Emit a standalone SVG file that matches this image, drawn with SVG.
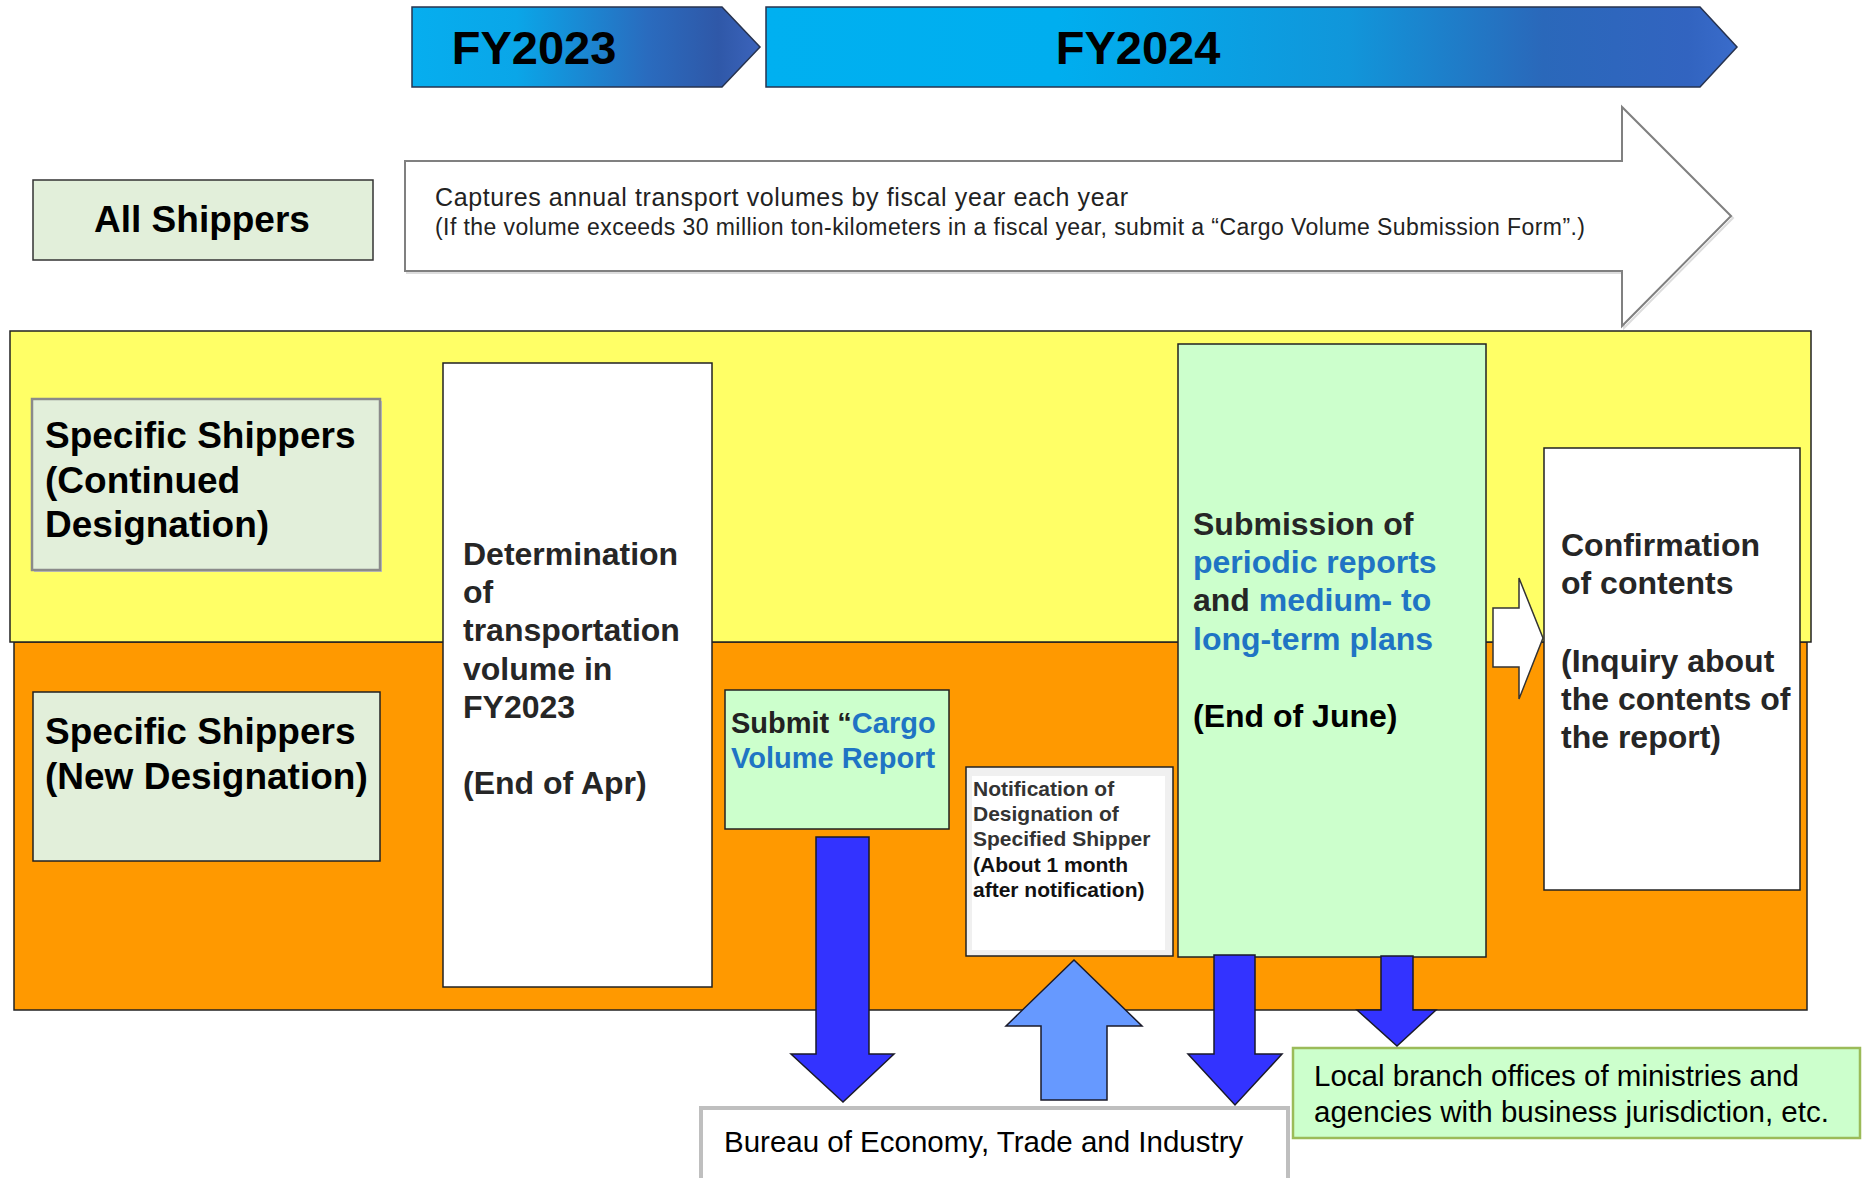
<svg xmlns="http://www.w3.org/2000/svg" width="1867" height="1178" viewBox="0 0 1867 1178">
<defs>
<linearGradient id="g23" gradientUnits="userSpaceOnUse" x1="412" y1="0" x2="760" y2="0">
<stop offset="0" stop-color="#06AEEF"/><stop offset="0.3" stop-color="#0AA6E8"/><stop offset="0.68" stop-color="#2A6BBE"/><stop offset="0.88" stop-color="#2F58A8"/><stop offset="1" stop-color="#3C64BC"/>
</linearGradient>
<linearGradient id="g24" gradientUnits="userSpaceOnUse" x1="766" y1="0" x2="1737" y2="0">
<stop offset="0" stop-color="#00B0F0"/><stop offset="0.3" stop-color="#00AEEF"/><stop offset="0.6" stop-color="#1196DA"/><stop offset="0.8" stop-color="#2A68BA"/><stop offset="0.95" stop-color="#3264C0"/><stop offset="1" stop-color="#3A6CCB"/>
</linearGradient>
<style>
text{font-family:"Liberation Sans",Arial,Helvetica,sans-serif;}
.b{font-weight:bold;}
.fy{font-size:47px;font-weight:bold;fill:#000;text-anchor:middle;}
.lab{font-size:37px;font-weight:bold;fill:#000;}
.big{font-size:32px;font-weight:bold;fill:#262626;}
.blue{fill:#1F74C4;}
.box{stroke:#222;stroke-width:1.5;}
.green{fill:#CCFFCC;}
.pale{fill:#E2EFDA;}
.arr{fill:#3333FF;stroke:#1a1a2a;stroke-width:1.5;stroke-linejoin:miter;}
.arrup{fill:#6699FF;stroke:#1a1a2a;stroke-width:1.5;}
.reg{font-size:29.5px;fill:#000;}
</style>
</defs>
<rect width="1867" height="1178" fill="#fff"/>

<g id="fy2023">
<polygon points="412,7 722,7 760,47 722,87 412,87" fill="url(#g23)" stroke="#27334f" stroke-width="1.5"/>
<text class="fy" x="534" y="64">FY2023</text>
</g>
<g id="fy2024">
<polygon points="766,7 1700,7 1737,47 1700,87 766,87" fill="url(#g24)" stroke="#27334f" stroke-width="1.5"/>
<text class="fy" x="1138" y="64">FY2024</text>
</g>

<g id="all-shippers">
<rect x="33" y="180" width="340" height="80" class="pale" stroke="#333" stroke-width="1.5"/>
<text class="b" x="202" y="232" font-size="37" text-anchor="middle" fill="#000">All Shippers</text>
</g>

<g id="annual-capture">
<polygon points="407,163 1624,163 1624,109 1733,218 1624,328 1624,273 407,273" fill="none" stroke="#dddddd" stroke-width="2"/>
<polygon points="405,161 1622,161 1622,107 1731,216 1622,326 1622,271 405,271" fill="#fff" stroke="#808080" stroke-width="2"/>
<text x="435" y="206" font-size="25" fill="#222" textLength="693" lengthAdjust="spacing">Captures annual transport volumes by fiscal year each year</text>
<text x="435" y="235" font-size="23" fill="#222" textLength="1150" lengthAdjust="spacing">(If the volume exceeds 30 million ton-kilometers in a fiscal year, submit a “Cargo Volume Submission Form”.)</text>
</g>

<g id="bands">
<rect x="14" y="642" width="1793" height="368" fill="#FF9900" stroke="#222" stroke-width="1.5"/>
<rect x="10" y="331" width="1801" height="311" fill="#FFFF66" stroke="#222" stroke-width="1.5"/>
</g>

<g id="specific-continued">
<rect x="34" y="401" width="348" height="171" fill="#bfbfbf"/>
<rect x="32" y="399" width="348" height="171" class="pale" stroke="#8a8a8a" stroke-width="2.5"/>
<text class="lab" x="45"><tspan x="45" y="448">Specific Shippers</tspan><tspan x="45" y="493">(Continued</tspan><tspan x="45" y="537">Designation)</tspan></text>
</g>

<g id="specific-new">
<rect x="33" y="692" width="347" height="169" class="pale box"/>
<text class="lab" x="45"><tspan x="45" y="744">Specific Shippers</tspan><tspan x="45" y="789">(New Designation)</tspan></text>
</g>

<g id="determination">
<rect x="443" y="363" width="269" height="624" fill="#fff" class="box"/>
<text class="big"><tspan x="463" y="565">Determination</tspan><tspan x="463" y="603">of</tspan><tspan x="463" y="641">transportation</tspan><tspan x="463" y="680">volume in</tspan><tspan x="463" y="718">FY2023</tspan><tspan x="463" y="794">(End of Apr)</tspan></text>
</g>

<g id="cargo-volume-report">
<rect x="725" y="690" width="224" height="139" class="green box"/>
<text class="b" font-size="29" fill="#222"><tspan x="731" y="733">Submit “<tspan class="blue">Cargo</tspan></tspan><tspan x="731" y="768" class="blue">Volume Report</tspan></text>
</g>

<g id="notification">
<rect x="966" y="767" width="207" height="189" fill="#F0F0F0" class="box"/>
<rect x="972" y="776" width="193" height="174" fill="#fff"/>
<text class="b" font-size="21"><tspan x="973" y="796" fill="#333">Notification of</tspan><tspan x="973" y="821" fill="#333">Designation of</tspan><tspan x="973" y="846" fill="#333">Specified Shipper</tspan><tspan x="973" y="872" fill="#111">(About 1 month</tspan><tspan x="973" y="897" fill="#111">after notification)</tspan></text>
</g>

<g id="periodic-reports">
<rect x="1178" y="344" width="308" height="613" class="green box"/>
<text class="big" fill="#222"><tspan x="1193" y="535">Submission of</tspan><tspan x="1193" y="573" class="blue">periodic reports</tspan><tspan x="1193" y="611">and <tspan class="blue">medium- to</tspan></tspan><tspan x="1193" y="650" class="blue">long-term plans</tspan><tspan x="1193" y="727" fill="#000">(End of June)</tspan></text>
</g>

<g id="confirmation">
<rect x="1544" y="448" width="256" height="442" fill="#fff" class="box"/>
<text class="big" fill="#1a1a1a"><tspan x="1561" y="556">Confirmation</tspan><tspan x="1561" y="594">of contents</tspan><tspan x="1561" y="672">(Inquiry about</tspan><tspan x="1561" y="710">the contents of</tspan><tspan x="1561" y="748">the report)</tspan></text>
</g>

<g id="bureau">
<rect x="701" y="1108" width="587" height="80" fill="#fff" stroke="#BFBFBF" stroke-width="4"/>
<text class="reg" x="724" y="1152">Bureau of Economy, Trade and Industry</text>
</g>

<g id="local-offices">
<rect x="1293" y="1048" width="567" height="90" class="green" stroke="#9BBB59" stroke-width="2.5"/>
<text class="reg"><tspan x="1314" y="1086">Local branch offices of ministries and</tspan><tspan x="1314" y="1122">agencies with business jurisdiction, etc.</tspan></text>
</g>

<g id="connectors">
<polygon class="arr" points="816,837 869,837 869,1054 894,1054 843,1102 791,1054 816,1054"/>
<polygon class="arrup" points="1074,960 1142,1026 1107,1026 1107,1100 1041,1100 1041,1026 1006,1026"/>
<polygon class="arr" points="1214,955 1255,955 1255,1054 1282,1054 1235,1105 1188,1054 1214,1054"/>
<polygon class="arr" points="1381,956 1413,956 1413,1010 1436,1010 1397,1046 1357,1010 1381,1010"/>
<polygon points="1493,608 1519,608 1519,578 1543,638 1519,699 1519,667 1493,667" fill="#fff" stroke="#333" stroke-width="1.5"/>
</g>
</svg>
